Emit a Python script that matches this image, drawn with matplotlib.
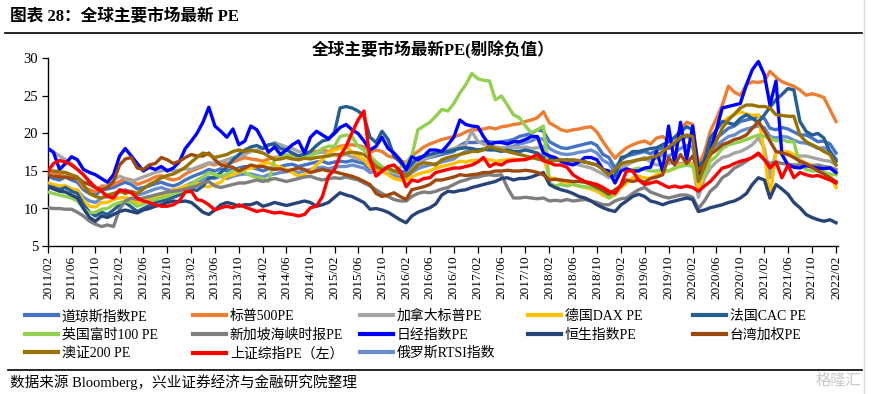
import pandas as pd
import matplotlib
matplotlib.use("Agg")
import matplotlib.pyplot as plt
import matplotlib.dates as mdates
from matplotlib.lines import Line2D

plt.rcParams['font.family'] = ['Liberation Serif', 'Noto Sans CJK SC']

# monthly PE readings, 2011/02 .. 2022/02
months = pd.date_range('2011-02-01', '2022-02-01', freq='MS')

dow = [14.3, 14.0, 13.8, 14.2, 13.8, 13.5, 12.5, 12.0, 11.8, 12.5, 12.6, 12.8,
       13.2, 13.5, 13.2, 12.6, 12.8, 13.0, 13.3, 13.5, 13.2, 13.0, 13.3, 13.8,
       14.2, 14.5, 14.8, 15.2, 15.0, 15.3, 15.0, 15.2, 15.4, 15.6, 15.5, 15.3,
       15.0, 15.3, 15.5, 15.6, 15.8, 15.9, 15.6, 15.8, 16.0, 16.2, 16.3, 16.0,
       16.2, 16.3, 16.2, 16.4, 16.2, 16.0, 15.3, 15.6, 15.5, 15.2, 15.0, 15.0,
       14.8, 15.6, 16.2, 16.6, 16.8, 17.0, 17.2, 17.4, 17.6, 18.4, 18.8, 18.8,
       18.8, 18.9, 18.9, 18.8, 18.9, 19.0, 19.2, 19.6, 19.8, 20.0, 20.5, 20.3,
       18.9, 18.5, 18.1, 18.0, 18.2, 18.4, 18.6, 18.8, 18.4, 17.2, 16.8, 15.4,
       16.5, 17.0, 17.2, 17.4, 17.6, 17.3, 17.8, 18.1, 18.0, 18.5, 19.2, 19.6,
       19.4, 15.4, 16.8, 18.6, 19.4, 20.0, 20.7, 21.0, 21.6, 21.8, 22.0, 22.3,
       22.0, 20.7, 20.5, 20.8, 20.6, 20.2, 19.8, 19.8, 19.4, 18.9, 19.0, 18.6,
       17.4]

sp500 = [15.0, 14.8, 14.5, 14.8, 14.2, 14.0, 12.8, 12.5, 12.2, 13.0, 13.0, 13.2,
         13.6, 14.0, 13.8, 13.2, 13.5, 13.8, 14.2, 14.4, 14.0, 13.8, 14.0, 14.6,
         15.0, 15.3, 15.6, 16.0, 15.8, 16.2, 16.0, 16.2, 16.5, 16.8, 16.6, 16.5,
         16.3, 16.6, 16.8, 16.9, 17.0, 17.2, 17.0, 17.2, 17.5, 17.6, 17.8, 17.6,
         18.0, 18.3, 18.4, 18.5, 18.4, 18.2, 17.5, 17.8, 17.6, 17.0, 16.8, 16.4,
         16.1, 17.0, 17.6, 18.2, 18.6, 18.9, 19.2, 19.4, 19.6, 19.8, 20.2, 20.5,
         20.5, 20.6, 20.8, 20.6, 20.9, 21.0, 21.2, 21.3, 21.6, 21.8, 22.1, 22.9,
         21.4, 21.0, 20.5, 20.3, 20.5, 20.6, 20.8, 20.9, 20.2, 18.9, 17.8, 16.7,
         17.5, 18.1, 18.5, 18.8, 19.0, 18.6, 19.4, 19.6, 19.0, 19.4, 20.5, 21.5,
         21.2, 15.8, 17.5, 20.3, 22.0, 23.8, 26.3, 25.5, 25.1, 26.5, 26.9, 26.8,
         27.0, 28.3, 27.5, 26.9, 26.6, 26.3, 25.8, 25.1, 25.3, 25.1, 24.8, 23.2,
         21.6]

canada = [18.0, 17.5, 17.0, 16.5, 16.0, 15.2, 14.5, 13.4, 12.8, 12.5, 13.0, 13.8,
          14.3, 14.0, 13.6, 13.9, 14.2, 14.5, 14.8, 15.0, 15.2, 15.0, 15.1, 15.3,
          15.2, 15.5, 15.8, 16.1, 16.0, 16.2, 16.5, 16.8, 16.9, 17.2, 17.6, 17.8,
          18.0, 18.4, 18.8, 18.5, 18.2, 18.0, 17.6, 17.4, 17.2, 17.4, 17.5, 17.3,
          17.2, 17.0, 17.2, 16.9, 16.6, 16.4, 16.1, 15.8, 15.5, 15.2, 14.8, 14.5,
          14.3, 15.2, 16.1, 16.5, 16.9, 17.2, 17.5, 17.8, 18.0, 18.3, 18.5, 20.3,
          18.9, 18.6, 18.3, 18.2, 18.1, 18.0, 18.1, 18.1, 18.2, 18.0, 18.1, 18.3,
          16.8, 16.6, 16.3, 16.2, 16.0, 15.8, 15.6, 15.4, 15.0, 14.6, 14.1, 14.5,
          15.4, 15.8, 16.2, 16.5, 16.8, 16.2, 15.8, 15.9, 16.0, 16.2, 16.0, 16.1,
          16.0, 11.5, 14.0, 15.4, 16.2, 16.8, 17.0, 17.4, 17.6, 18.0, 18.5, 19.4,
          18.0, 14.1, 17.6, 17.4, 17.3, 17.2, 17.0, 17.0, 16.8, 16.6, 16.4, 16.3,
          15.8]

dax = [13.4, 13.2, 13.0, 13.0, 12.6, 12.5, 11.0, 10.3, 10.2, 10.8, 10.8, 11.2,
       11.4, 11.5, 11.2, 10.8, 11.0, 11.4, 11.6, 11.8, 12.0, 12.5, 12.6, 13.0,
       13.2, 13.4, 13.0, 12.9, 13.2, 13.5, 14.3, 14.5, 14.8, 15.2, 15.4, 15.6,
       16.0, 16.1, 15.8, 15.5, 15.2, 14.8, 14.3, 14.5, 15.0, 15.8, 16.5, 17.5,
       17.8, 18.0, 18.3, 17.5, 17.0, 16.5, 15.5, 15.2, 15.0, 14.5, 14.0, 13.8,
       13.8, 14.2, 14.6, 14.8, 15.0, 15.4, 15.6, 15.8, 16.0, 16.3, 16.2, 16.4,
       16.4, 16.5, 16.5, 16.3, 16.4, 16.5, 16.6, 16.4, 16.6, 16.7, 16.8, 16.8,
       14.1, 14.0, 13.6, 13.5, 13.2, 13.0, 12.8, 12.6, 12.3, 11.8, 11.4, 11.8,
       12.8, 13.4, 14.1, 14.3, 14.1, 14.0, 14.5, 14.8, 15.0, 15.3, 15.8, 16.0,
       15.8, 12.8, 14.5, 17.0, 20.5, 21.5, 22.1, 22.5, 22.9, 22.6, 22.4, 22.5,
       17.2, 11.4, 17.6, 17.5, 17.6, 17.2, 16.5, 16.0, 15.8, 15.5, 14.8, 14.5,
       12.8]

cac = [13.0, 12.8, 12.5, 12.8, 12.3, 12.0, 10.5, 9.5, 9.0, 9.5, 9.2, 9.8,
       10.5, 10.8, 10.2, 9.6, 10.0, 10.4, 10.8, 11.0, 11.2, 11.5, 11.8, 12.4,
       12.6, 12.4, 13.0, 14.0, 14.2, 14.8, 15.5, 16.5, 17.2, 17.8, 18.2, 18.4,
       18.0, 18.5, 18.6, 18.0, 17.8, 17.4, 17.0, 17.2, 17.6, 18.4, 19.0, 19.2,
       20.2, 23.4, 23.6, 23.4, 23.0, 22.3, 19.5, 18.8, 20.3, 19.2, 17.0, 16.2,
       15.2, 16.0, 16.8, 17.0, 17.2, 17.4, 17.6, 17.6, 17.8, 18.0, 18.1, 18.0,
       17.8, 17.9, 17.8, 17.8, 17.6, 17.8, 17.6, 17.6, 17.8, 17.6, 17.4, 16.8,
       16.6, 16.5, 16.4, 16.5, 16.4, 16.3, 16.2, 16.0, 15.8, 15.2, 14.5, 14.3,
       16.8, 17.0, 17.6, 17.6, 17.8, 18.0, 18.1, 18.5, 18.9, 19.5, 20.2, 20.9,
       20.5, 15.5, 16.5, 19.4, 20.5, 21.6, 21.4, 21.2, 22.0, 22.5, 22.0, 21.5,
       22.5, 23.5, 24.5, 25.2, 26.0, 25.8, 21.6, 20.3, 19.8, 20.0, 19.4, 17.5,
       16.3]

ftse = [12.2, 12.0, 11.8, 11.6, 11.4, 11.0, 10.0, 9.4, 9.5, 9.9, 10.0, 10.5,
        10.8, 11.0, 10.8, 10.3, 10.6, 11.0, 11.2, 11.4, 11.6, 12.0, 12.2, 12.5,
        13.2, 13.8, 14.2, 14.8, 14.5, 14.3, 14.6, 15.0, 15.2, 14.8, 14.4, 14.1,
        14.0, 13.6, 16.5, 17.0, 17.2, 16.8, 16.5, 16.8, 17.0, 17.4, 18.0, 18.3,
        18.3, 19.6, 19.8, 19.6, 18.3, 17.8, 17.0, 16.2, 15.6, 15.2, 14.8, 15.5,
        16.0, 17.0, 20.5, 21.0, 21.5, 22.3, 23.2, 23.0, 24.0, 25.4, 26.5, 28.0,
        27.3, 27.1, 27.0, 24.5, 25.0, 23.8, 22.5, 22.1, 21.0, 20.1, 20.5, 21.0,
        13.4, 13.0, 13.2, 13.0, 13.2, 13.0, 12.9, 12.8, 12.6, 12.2, 11.4, 12.0,
        13.2, 15.0, 15.2, 15.4, 15.2, 15.0, 15.0, 15.2, 15.0, 15.4, 15.6, 15.8,
        15.6, 13.6, 14.5, 16.3, 17.0, 18.0, 18.5, 18.7, 18.9, 19.2, 19.5, 19.8,
        19.6, 19.4, 19.0, 19.2, 18.9, 18.9, 15.8, 15.2, 15.0, 15.0, 14.8, 14.6,
        14.5]

singapore = [10.1, 10.0, 10.0, 9.9, 9.9, 9.5, 9.0, 8.3, 7.9, 7.6, 7.8, 7.6,
             9.9, 11.0, 11.4, 11.2, 11.4, 11.6, 11.8, 12.0, 12.2, 12.3, 12.4, 12.6,
             12.8, 13.0, 13.4, 13.6, 13.0, 12.8, 13.0, 13.2, 13.4, 13.4, 13.6, 13.8,
             13.6, 13.8, 14.0, 13.8, 13.6, 13.8, 14.0, 14.2, 14.3, 14.0, 13.8, 14.0,
             14.1, 14.0, 14.2, 14.0, 13.8, 13.4, 13.0, 12.5, 12.0, 11.6, 11.2, 11.0,
             11.0, 11.6, 12.0, 12.2, 12.1, 12.3, 12.6, 12.8, 13.2, 13.6, 13.8, 14.1,
             14.2, 14.4, 14.5, 14.4, 14.5, 12.8, 11.4, 11.4, 11.5, 11.4, 11.3, 11.4,
             11.0, 11.1, 11.0, 11.2, 11.0, 11.1, 11.2, 11.0, 10.8, 10.5, 10.5, 11.0,
             11.3, 11.4, 12.0, 12.5, 12.8, 12.2, 11.9, 11.6, 11.4, 11.6, 11.8, 11.8,
             11.5, 10.0, 11.0, 12.3, 13.0, 14.1, 14.6, 15.4, 15.8, 16.3, 16.8, 17.2,
             16.5, 16.0, 16.2, 16.0, 15.9, 15.8, 15.8, 15.6, 15.7, 15.8, 15.6, 15.5,
             15.2]

nikkei = [18.0, 17.5, 15.2, 16.0, 16.9, 16.5, 15.2, 14.8, 14.5, 14.0, 13.5, 14.5,
          17.0, 18.0, 17.0, 16.0, 15.0, 15.5, 15.2, 15.6, 15.0, 15.4, 16.2, 18.0,
          19.0, 20.0, 21.5, 23.5, 21.0, 20.3, 19.5, 20.6, 18.5, 19.0, 21.0, 20.5,
          19.0, 17.5, 18.2, 17.2, 17.8, 18.5, 19.0, 17.4, 19.5, 20.3, 19.8, 19.3,
          20.0, 20.8, 21.2, 20.5, 20.0, 19.0, 17.8, 18.3, 19.5, 18.0, 17.4, 16.5,
          15.2, 16.9, 16.5, 17.0, 17.8, 17.8, 17.6, 18.5, 19.5, 21.8, 21.2, 21.0,
          20.9, 19.6, 18.5, 18.8, 18.8, 18.6, 18.9, 18.9, 19.2, 19.6, 19.6, 17.4,
          17.0, 16.8, 16.3, 16.0, 15.8, 16.2, 16.8, 16.8, 16.5, 15.2, 15.0, 13.4,
          15.0, 15.3, 15.0, 15.0, 15.4, 15.5, 17.6, 15.0, 21.0, 16.0, 21.5, 16.5,
          21.0, 14.5, 16.0, 17.6, 20.5, 23.4, 23.6, 23.8, 24.0, 26.5, 28.5, 29.6,
          27.8, 23.8, 27.0, 17.2, 15.8, 15.5, 15.4, 15.8, 15.5, 15.4, 15.3, 15.4,
          14.8]

hangseng = [12.9, 12.6, 12.3, 12.2, 11.8, 11.4, 10.0, 8.8, 8.3, 9.0, 8.8, 9.2,
            9.6, 9.8, 9.6, 9.4, 9.8, 10.0, 10.3, 10.5, 10.8, 11.0, 10.9, 11.0,
            10.8, 10.2, 9.5, 9.2, 9.8, 10.5, 10.8, 10.6, 10.3, 10.5, 10.5, 10.8,
            10.3, 10.5, 10.8, 10.6, 10.4, 10.6, 10.8, 11.0, 10.8, 10.3, 10.5, 10.8,
            11.5, 12.1, 11.8, 11.6, 11.2, 10.8, 9.9, 10.0, 9.8, 9.5, 9.0, 8.5,
            8.1, 9.0, 9.5, 9.8, 10.1, 10.6, 11.8, 12.3, 12.2, 12.4, 12.5, 12.8,
            13.0, 13.2, 13.4, 13.6, 14.0, 14.1, 13.8, 14.0, 14.0, 14.2, 14.5, 14.8,
            13.2, 12.8, 12.5, 12.3, 12.0, 11.6, 11.4, 11.0, 10.5, 10.1, 9.8, 9.6,
            10.5, 11.0, 11.6, 11.9, 11.6, 11.0, 10.8, 10.5, 10.8, 11.0, 11.2, 11.4,
            11.2, 9.6, 9.8, 10.1, 10.3, 10.5, 10.8, 11.0, 11.4, 12.0, 13.2, 14.1,
            13.8, 11.4, 13.2, 12.6, 11.9, 10.8, 10.1, 9.2, 8.8, 8.5, 8.3, 8.5,
            8.1]

taiwan = [14.5, 14.3, 14.2, 14.2, 14.0, 14.1, 13.5, 13.2, 12.8, 12.5, 12.8, 13.6,
          15.8, 16.6, 16.8, 15.4, 15.2, 15.8, 16.0, 16.8, 16.5, 16.0, 16.3, 16.8,
          17.2, 17.0, 17.0, 17.4, 16.5, 15.8, 15.6, 15.5, 15.0, 15.4, 15.8, 15.6,
          15.6, 15.4, 15.2, 15.3, 15.0, 15.2, 15.4, 15.2, 14.8, 15.0, 15.2, 15.0,
          14.9, 14.7, 14.5, 14.3, 14.0, 13.6, 13.2, 12.0, 11.6, 11.8, 12.1, 11.6,
          11.2, 12.5, 12.7, 12.9, 13.2, 13.8, 13.8, 14.0, 14.2, 14.5, 14.4, 14.5,
          14.6, 14.8, 14.8, 15.0, 15.0, 15.1, 15.0, 15.0, 15.1, 15.0, 14.8, 14.5,
          13.8, 13.9, 13.8, 13.7, 13.6, 13.6, 13.5, 13.2, 12.8, 12.4, 11.9, 12.5,
          13.0, 13.8, 13.6, 13.8, 13.5, 14.0, 14.2, 14.5, 16.8, 15.8, 17.2, 16.0,
          17.0, 15.0, 16.0, 17.2, 17.8, 18.5, 18.8, 19.2, 19.4, 19.8, 20.7, 21.6,
          20.3, 19.0, 17.6, 17.4, 17.2, 16.8, 16.3, 16.0, 15.5, 15.0, 14.6, 14.1,
          13.6]

asx200 = [15.0, 15.0, 14.9, 14.8, 14.5, 14.2, 13.2, 12.0, 11.6, 11.4, 11.8, 12.0,
          12.3, 12.0, 12.3, 12.0, 12.6, 13.2, 13.6, 14.1, 14.4, 14.6, 15.0, 15.5,
          16.2, 16.8, 17.4, 17.2, 16.8, 17.0, 17.2, 17.6, 17.8, 17.6, 17.8, 17.6,
          17.4, 17.0, 16.5, 16.6, 16.8, 16.6, 16.5, 16.7, 16.6, 16.8, 16.9, 17.0,
          17.2, 17.2, 17.4, 17.5, 17.4, 17.2, 16.5, 15.6, 15.2, 15.4, 15.0, 14.8,
          14.3, 15.0, 15.8, 16.1, 16.0, 15.8, 16.5, 16.8, 17.0, 17.2, 17.4, 17.6,
          17.6, 17.8, 18.3, 18.0, 17.8, 17.6, 17.4, 17.2, 17.0, 16.8, 16.6, 16.4,
          16.3, 16.4, 16.5, 16.4, 16.5, 16.4, 16.2, 16.0, 15.8, 15.2, 14.5, 15.2,
          16.0, 16.2, 16.3, 16.5, 16.6, 16.8, 17.0, 17.6, 18.2, 18.8, 19.5, 19.8,
          19.6, 13.6, 15.5, 17.6, 19.0, 20.7, 21.8, 22.6, 23.4, 23.8, 23.8, 23.6,
          23.6, 23.4, 22.5, 22.4, 22.3, 22.3, 19.8, 18.9, 18.5, 18.1, 17.6, 17.2,
          15.8]

shanghai = [15.0, 16.0, 16.4, 16.2, 15.8, 15.2, 14.5, 13.6, 12.8, 12.3, 11.6, 11.4,
            12.5, 12.3, 12.1, 11.4, 11.0, 10.8, 10.5, 10.3, 10.3, 10.5, 11.0, 12.2,
            12.3, 11.2, 11.0, 10.5, 9.8, 10.1, 10.3, 10.1, 10.5, 10.2, 9.9, 9.6,
            9.8, 9.6, 9.4, 9.5, 9.3, 9.2, 9.0, 9.2, 10.1, 10.3, 11.6, 14.3,
            15.2, 17.0, 18.3, 20.1, 21.8, 23.0, 16.5, 14.3, 15.0, 15.6, 15.8, 15.0,
            12.9, 13.8, 13.6, 14.0, 14.1, 14.8, 15.0, 15.2, 15.4, 15.4, 15.6, 15.8,
            16.2, 16.8, 15.6, 16.0, 15.8, 16.3, 16.4, 16.5, 16.5, 16.8, 17.2, 16.4,
            16.1, 15.8, 15.8, 15.5, 14.5, 14.0, 13.6, 13.4, 13.2, 12.8, 12.3, 12.0,
            13.2, 15.0, 15.0, 13.8, 13.2, 13.4, 13.6, 13.2, 12.8, 13.0, 12.8, 13.0,
            12.8, 12.3, 13.0, 13.6, 14.5, 15.4, 15.6, 16.0, 16.3, 16.5, 16.8, 17.4,
            16.5, 15.4, 16.2, 14.1, 15.8, 14.1, 14.8, 14.5, 14.3, 14.4, 14.1, 13.8,
            13.4]

russia = [13.2, 13.0, 12.8, 13.0, 12.6, 12.4, 11.5, 11.0, 10.8, 11.4, 11.6, 11.8,
          12.2, 12.5, 12.2, 11.8, 12.0, 12.3, 12.6, 12.8, 12.5, 12.4, 12.6, 13.0,
          13.4, 13.6, 13.8, 14.2, 14.0, 14.3, 14.0, 14.3, 14.5, 14.6, 14.6, 14.4,
          14.2, 14.5, 14.6, 14.8, 14.9, 15.0, 14.8, 15.0, 15.2, 15.4, 15.5, 15.3,
          15.5, 15.6, 15.6, 15.8, 15.6, 15.4, 14.8, 15.0, 14.9, 14.6, 14.4, 14.2,
          14.0, 14.8, 15.3, 15.6, 15.8, 16.0, 16.2, 16.4, 16.6, 17.2, 17.6, 17.8,
          17.8, 17.9, 18.0, 17.9, 18.0, 18.1, 18.3, 18.6, 18.8, 19.0, 19.4, 19.2,
          18.0, 17.6, 17.3, 17.2, 17.3, 17.5, 17.6, 17.8, 17.4, 16.4, 16.0, 14.8,
          15.6, 16.0, 16.3, 16.5, 16.6, 16.4, 16.8, 17.1, 17.0, 17.4, 18.0, 18.4,
          18.2, 14.6, 15.8, 17.6, 18.4, 19.0, 19.6, 19.8, 20.3, 20.6, 20.8, 21.0,
          20.8, 19.6, 19.4, 19.6, 19.5, 19.1, 18.8, 18.7, 18.4, 18.0, 18.1, 17.7,
          16.6]

names = ['道琼斯指数PE', '标普500PE', '加拿大标普PE', '德国DAX PE', '法国CAC PE',
         '英国富时100 PE', '新加坡海峡时报PE', '日经指数PE', '恒生指数PE', '台湾加权PE',
         '澳证200 PE', '上证综指PE（左）', '俄罗斯RTSI指数']
values = [dow, sp500, canada, dax, cac, ftse, singapore, nikkei, hangseng, taiwan,
          asx200, shanghai, russia]
colors = ['#4472C4', '#ED7D31', '#A5A5A5', '#FFC000', '#255E91', '#92D050', '#7F7F7F',
          '#0000FF', '#264478', '#9E480E', '#997300', '#FF0000', '#698ED0']

W, H = 873, 394
fig = plt.figure(figsize=(W / 100, H / 100), dpi=100)
ax = fig.add_axes([48 / W, 1 - 246 / H, (838 - 48) / W, (246 - 58.5) / H])

handles = []
for i, (name, vals, col) in enumerate(zip(names, values, colors)):
    z = 1 if name.startswith('俄罗斯') else 2 + i
    ln, = ax.plot(months, vals, color=col, lw=2.4, label=name, zorder=z,
                  solid_joinstyle='round')
    handles.append(ln)

ax.set_ylim(5, 30)
ax.set_yticks(range(5, 31, 5))
ax.set_xlim(months[0], months[-1] + pd.Timedelta(days=10))
ax.set_xticks(months[::4])
ax.xaxis.set_major_formatter(mdates.DateFormatter('%Y/%m'))
ax.tick_params(axis='x', rotation=90, labelsize=9.5, length=5, width=0.9, direction='out', pad=2)
ax.tick_params(axis='y', labelsize=10.5, length=4, width=0.9, direction='out', pad=3)
for lab in ax.get_xticklabels() + ax.get_yticklabels():
    lab.set_family('Liberation Serif')
ax.spines['top'].set_visible(False)
ax.spines['right'].set_visible(False)
ax.spines['left'].set_linewidth(1.0)
ax.spines['bottom'].set_linewidth(1.0)

# legend: five columns placed by hand, three rows
cols = [[0, 5, 10], [1, 6, 11], [2, 7, 12], [3, 8], [4, 9]]
col_x = [25, 193, 360, 528, 693]
for idx, x in zip(cols, col_x):
    leg = fig.legend(handles=[handles[k] for k in idx], loc='upper left',
                     bbox_to_anchor=(x / W, 1 - 310 / H), frameon=False, fontsize=10,
                     handlelength=2.4, handletextpad=0.25, labelspacing=0.38,
                     borderpad=0, borderaxespad=0)
    for h in leg.legend_handles:
        h.set_linewidth(3.0)

fig.text(10 / W, 1 - 17 / H, '图表 28：全球主要市场最新 PE', fontsize=12,
         fontweight='bold', va='center', ha='left')
fig.add_artist(Line2D([5 / W, 862 / W], [1 - 33 / H, 1 - 33 / H], color='black', lw=1.2))
fig.text(433 / W, 1 - 50 / H, '全球主要市场最新PE(剔除负值）', fontsize=12,
         fontweight='bold', va='center', ha='center')
fig.add_artist(Line2D([8 / W, 862 / W], [1 - 370 / H, 1 - 370 / H], color='black', lw=1.2))
fig.text(10 / W, 1 - 382 / H, '数据来源 Bloomberg，兴业证券经济与金融研究院整理',
         fontsize=10.5, va='center', ha='left')
fig.text(838 / W, 1 - 381 / H, '格隆汇', fontsize=11, color='#c8c8c8',
         va='center', ha='center')
fig.add_artist(Line2D([864 / W, 864 / W], [0, 1], color='#dcdcdc', lw=1))

fig.savefig('out.png', dpi=100)
